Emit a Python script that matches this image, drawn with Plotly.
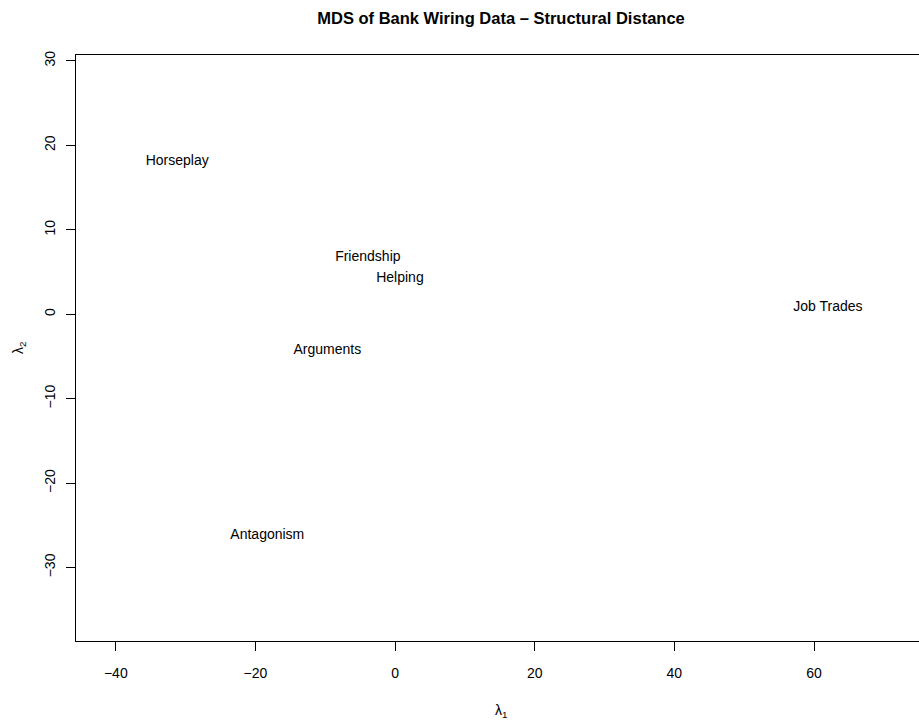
import plotly.graph_objects as go

labels = ["Horseplay", "Friendship", "Helping", "Job Trades", "Arguments", "Antagonism"]
dim1 = [-31.2, -3.9, 0.7, 62.0, -9.7, -18.3]
dim2 = [18.1, 6.7, 4.2, 0.85, -4.3, -26.2]

x_ticks = [-40, -20, 0, 20, 40, 60]
y_ticks = [-30, -20, -10, 0, 10, 20, 30]

font_family = "Liberation Sans, Arial, Helvetica, sans-serif"

fig = go.Figure()
fig.add_trace(go.Scatter(
    x=dim1, y=dim2, text=labels, mode="text",
    textposition="middle center",
    textfont=dict(family=font_family, size=14, color="black"),
    hoverinfo="skip", showlegend=False,
))

axis_common = dict(
    showline=True, linecolor="black", linewidth=1, mirror=True,
    showgrid=False, zeroline=False, automargin=False,
    ticks="outside", ticklen=9, tickwidth=1, tickcolor="black",
    tickfont=dict(family=font_family, size=14, color="black"),
)

W, H = 933, 727

fig.update_layout(
    width=W, height=H,
    margin=dict(l=76, r=7, t=55, b=86),
    paper_bgcolor="white", plot_bgcolor="white",
    title=dict(text="<b>MDS of Bank Wiring Data \u2013 Structural Distance</b>",
               x=0.5, xanchor="center", y=1 - 18 / H, yanchor="middle",
               xref="paper",
               font=dict(family=font_family, size=16.5, color="black")),
    xaxis=dict(range=[-45.7, 76.04], tickvals=x_ticks, ticklabelstandoff=10, **axis_common),
    yaxis=dict(range=[-38.7, 30.7], tickvals=y_ticks, tickangle=-90, ticklabelstandoff=5, **axis_common),
    annotations=[
        dict(text="\u03bb<sub>1</sub>", xref="paper", yref="paper", x=0.5, y=0,
             xanchor="center", yanchor="middle", yshift=-70, showarrow=False,
             font=dict(family=font_family, size=14, color="black")),
        dict(text="\u03bb<sub>2</sub>", xref="paper", yref="paper", x=0, y=0.5,
             xanchor="center", yanchor="middle", xshift=-57, textangle=-90, showarrow=False,
             font=dict(family=font_family, size=14, color="black")),
    ],
)

post = (
    "document.documentElement.style.margin='0';"
    "document.documentElement.style.overflow='hidden';"
    "document.body.style.margin='0';document.body.style.padding='0';"
    "document.body.style.overflow='hidden';"
    "var gd=document.getElementById('{plot_id}');"
    "Plotly.relayout(gd,{width:933,height:727});"
)

fig.write_html("out.html", config={"responsive": False, "displayModeBar": False}, post_script=post)
